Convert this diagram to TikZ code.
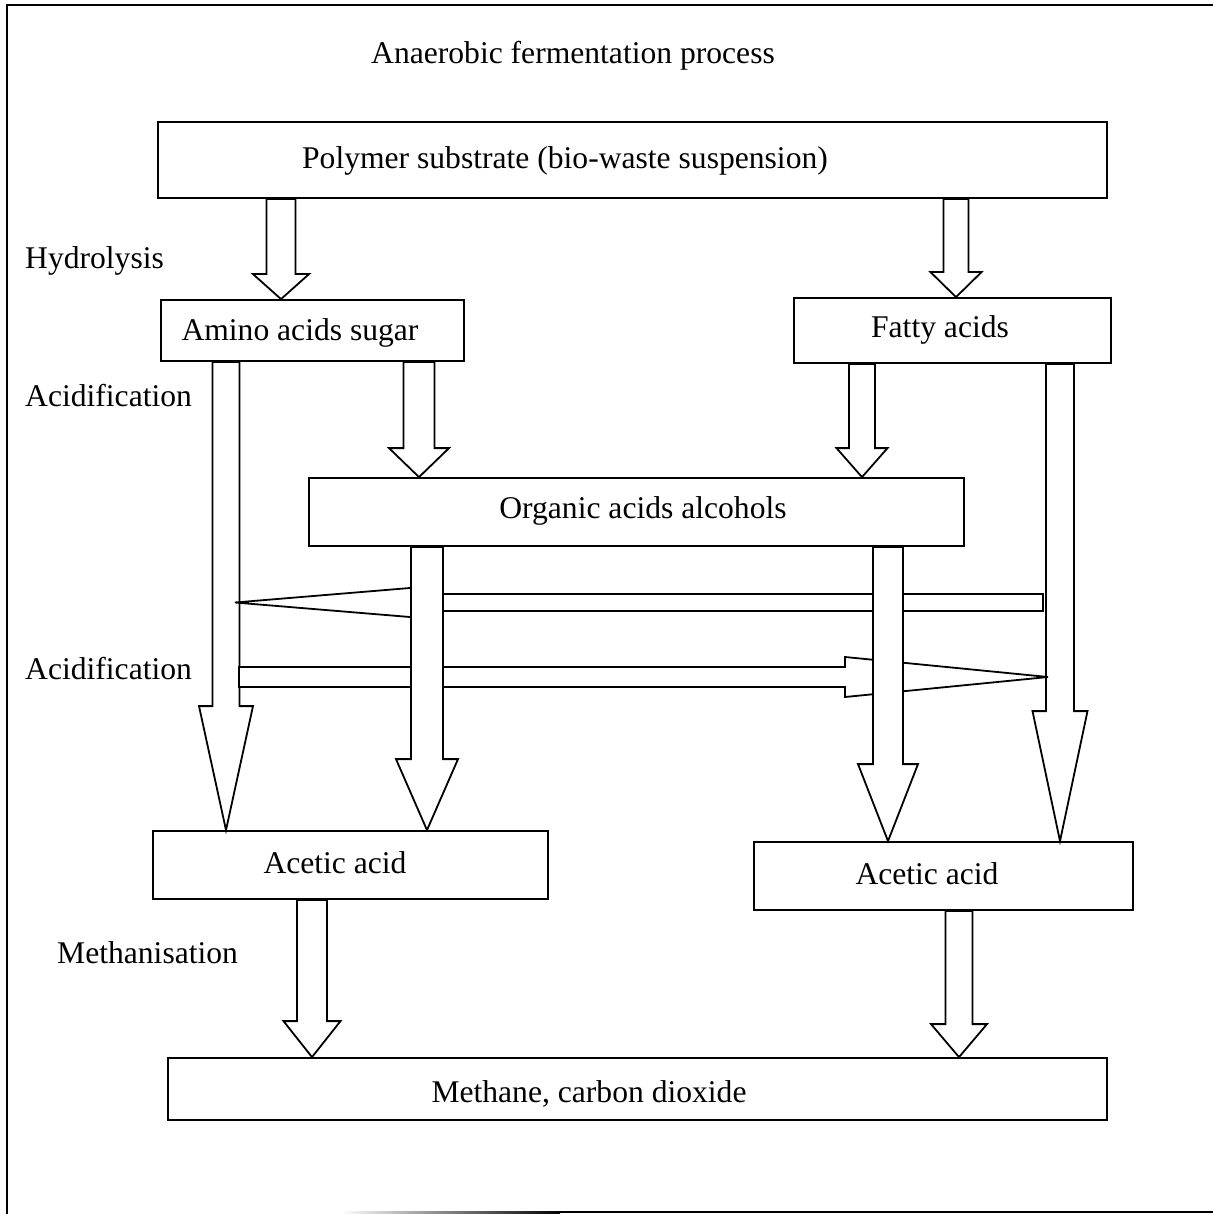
\documentclass[tikz,border=0pt]{standalone}
\usepackage{fontspec}
\setmainfont{Liberation Serif}
\usetikzlibrary{calc}
\tikzset{
  box/.style={draw, line width=1.8pt, fill=white, inner sep=0pt},
  txt/.style={inner sep=0pt, font=\fontsize{31.6}{37}\selectfont},
  blockarrow/.style={draw, line width=1.8pt, fill=white, line join=miter},
}
% #1 from anchor, #2 to anchor, #3 x, #4 shaft half width, #5 head half width, #6 head length
\newcommand\fatdown[6]{%
  \draw[blockarrow] let \p1=(#1), \p2=(#2) in
    ({#3pt-#4pt},\y1) -- ({#3pt-#4pt},{\y2+#6pt}) -- ({#3pt-#5pt},{\y2+#6pt}) -- (#3pt,\y2)
    -- ({#3pt+#5pt},{\y2+#6pt}) -- ({#3pt+#4pt},{\y2+#6pt}) -- ({#3pt+#4pt},\y1) -- cycle;}
% #1 tail, #2 tip, #3 shaft hw, #4 head hw, #5 signed head length (positive = points left)
\newcommand\fathor[5]{%
  \draw[blockarrow] let \p1=(#1), \p2=(#2) in
   (\x1,{\y2+#3pt}) -- ({\x2+#5pt},{\y2+#3pt}) -- ({\x2+#5pt},{\y2+#4pt}) -- (\x2,\y2)
   -- ({\x2+#5pt},{\y2-#4pt}) -- ({\x2+#5pt},{\y2-#3pt}) -- (\x1,{\y2-#3pt}) -- cycle;}
\begin{document}
\begin{tikzpicture}[x=1pt,y=-1pt]
\useasboundingbox (0,0) rectangle (1213,1214);
% frame
\draw[line width=2pt] (1213,5) -- (7,5) -- (7,1214);
\shade[left color=white, right color=black] (340,1211) rectangle (560,1213);
\fill[black] (560,1211) rectangle (1213,1213);

% title and stage labels
\node[txt] (title) at (573,56) {Anaerobic fermentation process};
\node[txt, anchor=west] (hyd) at (25,261) {Hydrolysis};
\node[txt, anchor=west] (acid1) at (25,396) {Acidification};
\node[txt, anchor=west] (acid2) at (25,669) {Acidification};
\node[txt, anchor=west] (meth) at (57,953) {Methanisation};

% boxes
\node[box, minimum width=949pt, minimum height=76pt] (poly) at (632.5,160) {};
\node[box, minimum width=303pt, minimum height=61pt] (amino) at (312.5,330.5) {};
\node[box, minimum width=317pt, minimum height=65pt] (fatty) at (952.5,330.5) {};
\node[box, minimum width=655pt, minimum height=68pt] (org) at (636.5,512) {};
\node[box, minimum width=395pt, minimum height=68pt] (aceL) at (350.5,865) {};
\node[box, minimum width=379pt, minimum height=68pt] (aceR) at (943.5,876) {};
\node[box, minimum width=939pt, minimum height=62pt] (meth2) at (637.5,1089) {};

% box texts
\node[txt] (polyT) at (565,161) {Polymer substrate (bio-waste suspension)};
\node[txt] (aminoT) at (300,333) {Amino acids sugar};
\node[txt] (fattyT) at (940,330) {Fatty acids};
\node[txt] (orgT) at (643,511) {Organic acids alcohols};
\node[txt] (aceLT) at (335,863) {Acetic acid};
\node[txt] (aceRT) at (927,874) {Acetic acid};
\node[txt] (methT) at (589,1094) {Methane, carbon dioxide};

% hydrolysis arrows
\fatdown{poly.south}{amino.north}{281}{14.5}{28}{25}
\fatdown{poly.south}{fatty.north}{956}{12.5}{25.5}{25}
% acidification arrows
\fatdown{amino.south}{org.north}{419}{15.5}{30}{29}
\fatdown{fatty.south}{org.north}{862}{13}{25.5}{29}
% long arrows
\fatdown{amino.south}{aceL.north}{226}{13.5}{27}{124}
\fatdown{fatty.south}{aceR.north}{1060}{14}{27.5}{130}
% horizontal arrows
\coordinate (lTail) at (1043,602.5);
\coordinate (lTip) at (235,602.5);
\coordinate (rTail) at (239,677);
\coordinate (rTip) at (1048,677);
\fathor{lTail}{lTip}{8.5}{17}{205}
\fathor{rTail}{rTip}{10}{20}{-203}
% middle arrows
\fatdown{org.south}{aceL.north}{427}{16}{31}{71}
\fatdown{org.south}{aceR.north}{888}{15}{30}{77}
% methanisation arrows
\fatdown{aceL.south}{meth2.north}{312}{15}{28.5}{36}
\fatdown{aceR.south}{meth2.north}{959}{13.5}{28}{33}
\end{tikzpicture}
\end{document}
